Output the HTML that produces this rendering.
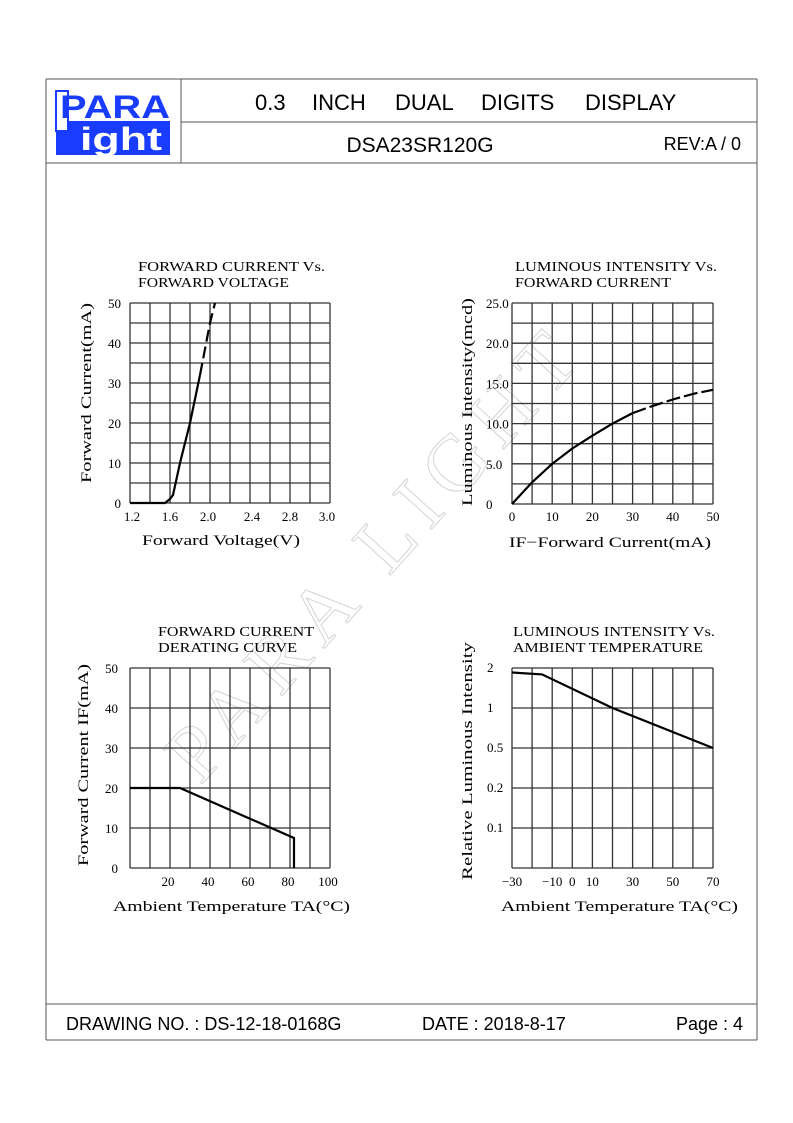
<!DOCTYPE html>
<html><head><meta charset="utf-8"><style>
body{margin:0;background:#fff;width:793px;height:1123px;position:relative;overflow:hidden;font-family:"Liberation Sans",sans-serif}
.a{position:absolute}
</style></head><body>
<svg class="a" style="left:0;top:0" width="793" height="1123">
<g stroke="#555" stroke-width="1" fill="none">
<line x1="46" y1="79" x2="757" y2="79"/><line x1="46" y1="79" x2="46" y2="1040"/><line x1="757" y1="79" x2="757" y2="1040"/>
<line x1="46" y1="163" x2="757" y2="163"/><line x1="181" y1="79" x2="181" y2="163"/><line x1="181" y1="122" x2="757" y2="122"/>
<line x1="46" y1="1004" x2="757" y2="1004"/><line x1="46" y1="1040" x2="757" y2="1040"/>
</g>
<g>
<rect x="56" y="121" width="114" height="34" fill="#1a3cff"/>
<rect x="56" y="91" width="12" height="40" fill="#fff" stroke="#1a3cff" stroke-width="2"/>
<text x="60" y="118" font-family="Liberation Sans" font-weight="bold" font-size="32" fill="#1a3cff" textLength="110" lengthAdjust="spacingAndGlyphs">PARA</text>
<text x="80" y="150" font-family="Liberation Sans" font-weight="bold" font-size="32" fill="#fff" textLength="82" lengthAdjust="spacingAndGlyphs">ight</text>
</g>
<text y="110" font-size="22" fill="#000"><tspan x="255">0.3</tspan><tspan x="312">INCH</tspan><tspan x="395">DUAL</tspan><tspan x="481">DIGITS</tspan><tspan x="585">DISPLAY</tspan></text>
<text x="420" y="152" text-anchor="middle" font-size="21">DSA23SR120G</text>
<text x="741" y="150" text-anchor="end" font-size="18">REV:A / 0</text>
<text x="66" y="1030" font-size="18">DRAWING NO. : DS-12-18-0168G</text>
<text x="422" y="1030" font-size="18">DATE : 2018-8-17</text>
<text x="743" y="1030" text-anchor="end" font-size="18">Page : 4</text>
<text x="395" y="570" text-anchor="middle" font-family="Liberation Serif" font-size="80" fill="none" stroke="#d4d4d4" stroke-width="1" letter-spacing="12" transform="rotate(-48 395 570)">PARA LIGHT</text>
<g id="charts"></g>
</svg>
<script>
// Chart 1: Forward current vs forward voltage
const c1Volt=[1.2,1.55,1.6,1.63,1.7,1.8,1.9,2.0,2.05];
const c1Curr=[0,0,1,2,10,20,32,45,50];
const c1XTicks=["1.2","1.6","2.0","2.4","2.8","3.0"];
const c1YTicks=[0,10,20,30,40,50];
// Chart 2: Luminous intensity vs forward current
const c2Curr=[0,5,10,15,20,25,30,35,40,45,50];
const c2Int=[0,2.7,5,6.9,8.5,10,11.3,12.2,13,13.7,14.2];
const c2XTicks=[0,10,20,30,40,50];
const c2YTicks=["0","5.0","10.0","15.0","20.0","25.0"];
// Chart 3: Derating curve
const c3Temp=[0,25,82,82];
const c3Curr=[20,20,7.5,0];
const c3XTicks=[20,40,60,80,100];
const c3YTicks=[0,10,20,30,40,50];
// Chart 4: Luminous intensity vs ambient temperature
const c4Temp=[-30,-15,20,70];
const c4Rel=[1.85,1.79,1,0.5];
const c4XTicks=[-30,-10,0,10,30,50,70];
const c4YTicks=["0.1","0.2","0.5","1","2"];
const c4YTickVals=[0.1,0.2,0.5,1,2];

const NS="http://www.w3.org/2000/svg";
const root=document.getElementById('charts');
function mk(tag,attrs,parent,txt){const e=document.createElementNS(NS,tag);for(const k in attrs)e.setAttribute(k,attrs[k]);if(txt!==undefined)e.textContent=txt;(parent||root).appendChild(e);return e;}
const serif='"Liberation Serif", serif';
function grid(g,x0,y0,w,h,nc,nr){
  for(let i=0;i<=nc;i++){const l=mk('line',{x1:x0+i*w/nc,y1:y0,x2:x0+i*w/nc,y2:y0+h,stroke:'#333','stroke-width':1.3},g);
  
  }
  for(let j=0;j<=nr;j++){const l=mk('line',{x1:x0,y1:y0+j*h/nr,x2:x0+w,y2:y0+j*h/nr,stroke:'#333','stroke-width':1.3},g);
  
  }
}
function txt(g,x,y,s,size,anchor,name,rot,len){const t=mk('text',{x:x,y:y,'font-family':serif,'font-size':size,'text-anchor':anchor||'start'},g,s);
  if(len){t.setAttribute('textLength',len);t.setAttribute('lengthAdjust','spacingAndGlyphs');}
  if(rot)t.setAttribute('transform','rotate(-90 '+x+' '+y+')');
  
  return t;}
function line(g,xs,ys,fx,fy,dash,name){const d=xs.map((v,i)=>(i?'L':'M')+fx(v).toFixed(1)+' '+fy(ys[i]).toFixed(1)).join(' ');
  const p=mk('path',{d:d,fill:'none',stroke:'#000','stroke-width':2.2},g);if(dash)p.setAttribute('stroke-dasharray',dash);
  
  return p;}

// chart 1
(function(){const g=mk('g',{});
 const x0=130,y0=303,w=200,h=200;grid(g,x0,y0,w,h,10,10);
 const fx=v=>x0+(v-1.2)/2.0*w, fy=v=>y0+h-v/50*h;
 txt(g,138,271,'FORWARD  CURRENT  Vs.',14,'start','chart-title',false,187);txt(g,138,287,'FORWARD  VOLTAGE',14,'start','chart-title',false,151);
 const xp=[132,170,208,252,290,327];
 c1XTicks.forEach((t,i)=>txt(g,xp[i],521,t,13,'middle','x-tick-label'));
 c1YTicks.forEach(t=>txt(g,121,fy(t)+5,String(t),13,'end','y-tick-label'));
 txt(g,142,545,'Forward  Voltage(V)',15,'start','x-axis-title',false,158);
 txt(g,91,483,'Forward  Current(mA)',15,'start','y-axis-title',true,180);
 const k=6;line(g,c1Volt.slice(0,k+1),c1Curr.slice(0,k+1),fx,fy,null,'iv-curve-solid');
 line(g,c1Volt.slice(k),c1Curr.slice(k),fx,fy,'12 5','iv-curve-dashed');})();
// chart 2
(function(){const g=mk('g',{});
 const x0=512,y0=303,w=201,h=201;grid(g,x0,y0,w,h,10,10);
 const fx=v=>x0+v/50*w, fy=v=>y0+h-v/25*h;
 txt(g,515,271,'LUMINOUS  INTENSITY  Vs.',14,'start','chart-title',false,202);txt(g,515,287,'FORWARD  CURRENT',14,'start','chart-title',false,156);
 c2XTicks.forEach(t=>txt(g,fx(t),521,String(t),13,'middle','x-tick-label'));
 c2YTicks.forEach((t,i)=>txt(g,486,fy(i*5)+5,t,13,'start','y-tick-label'));
 txt(g,509,547,'IF\u2212Forward  Current(mA)',15,'start','x-axis-title',false,202);
 txt(g,472,506,'Luminous  Intensity(mcd)',15,'start','y-axis-title',true,208);
 line(g,c2Curr.slice(0,7),c2Int.slice(0,7),fx,fy,null,'intensity-curve-solid');
 line(g,c2Curr.slice(6),c2Int.slice(6),fx,fy,'14 4','intensity-curve-dashed');})();
// chart 3
(function(){const g=mk('g',{});
 const x0=130,y0=668,w=200,h=200;grid(g,x0,y0,w,h,10,5);
 const fx=v=>x0+v/100*w, fy=v=>y0+h-v/50*h;
 txt(g,158,636,'FORWARD  CURRENT',14,'start','chart-title',false,156);txt(g,158,652,'DERATING  CURVE',14,'start','chart-title',false,139);
 c3XTicks.forEach(t=>txt(g,fx(t)-2,886,String(t),13,'middle','x-tick-label'));
 c3YTicks.forEach(t=>txt(g,118,fy(t)+5,String(t),13,'end','y-tick-label'));
 txt(g,113,911,'Ambient  Temperature  TA(\u00B0C)',15,'start','x-axis-title',false,237);
 txt(g,88,866,'Forward  Current  IF(mA)',15,'start','y-axis-title',true,202);
 line(g,c3Temp,c3Curr,fx,fy,null,'derating-line');})();
// chart 4
(function(){const g=mk('g',{});
 const x0=512,y0=668,w=201,h=200;grid(g,x0,y0,w,h,10,5);
 const fx=v=>x0+(v+30)/100*w;
 const fy=v=>{const a=c4YTickVals;for(let i=0;i<a.length-1;i++){if(v<=a[i+1]||i==a.length-2){const f=(Math.log(v)-Math.log(a[i]))/(Math.log(a[i+1])-Math.log(a[i]));return y0+h-40-(i+f)*40;}}};
 txt(g,513,636,'LUMINOUS  INTENSITY  Vs.',14,'start','chart-title',false,202);txt(g,513,652,'AMBIENT  TEMPERATURE',14,'start','chart-title',false,190);
 c4XTicks.forEach(t=>txt(g,fx(t),886,(t<0?'\u2212'+(-t):String(t)),13,'middle','x-tick-label'));
 c4YTicks.forEach((t,i)=>txt(g,487,fy(c4YTickVals[i])+4,t,13,'start','y-tick-label'));
 txt(g,501,911,'Ambient  Temperature  TA(\u00B0C)',15,'start','x-axis-title',false,237);
 txt(g,472,880,'Relative  Luminous  Intensity',15,'start','y-axis-title',true,238);
 line(g,c4Temp,c4Rel,fx,fy,null,'relative-intensity-line');})();
</script>
</body></html>
